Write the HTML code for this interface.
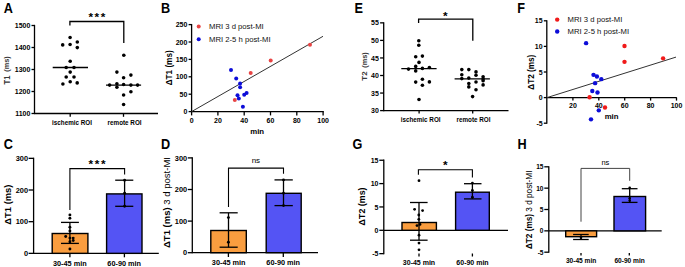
<!DOCTYPE html>
<html><head><meta charset="utf-8"><style>
html,body{margin:0;padding:0;background:#fff;}
svg{display:block;}
text{font-family:"Liberation Sans", sans-serif;}
</style></head><body>
<svg width="685" height="267" viewBox="0 0 685 267" font-family='"Liberation Sans", sans-serif'>
<rect x="0" y="0" width="685" height="267" fill="#fff"/>
<text transform="translate(3.80,12.60) scale(0.92,1)" font-size="13.8" font-weight="bold">A</text>
<line x1="34.50" y1="24.85" x2="34.50" y2="114.15" stroke="#000" stroke-width="1.3"/>
<line x1="31.50" y1="25.50" x2="34.50" y2="25.50" stroke="#000" stroke-width="1.3"/>
<text transform="translate(30.30,28.12) scale(0.92,1)" font-size="7.608695652173913" font-weight="bold" text-anchor="end" fill="#000">1500</text>
<line x1="31.50" y1="47.50" x2="34.50" y2="47.50" stroke="#000" stroke-width="1.3"/>
<text transform="translate(30.30,50.12) scale(0.92,1)" font-size="7.608695652173913" font-weight="bold" text-anchor="end" fill="#000">1400</text>
<line x1="31.50" y1="69.50" x2="34.50" y2="69.50" stroke="#000" stroke-width="1.3"/>
<text transform="translate(30.30,72.12) scale(0.92,1)" font-size="7.608695652173913" font-weight="bold" text-anchor="end" fill="#000">1300</text>
<line x1="31.50" y1="91.50" x2="34.50" y2="91.50" stroke="#000" stroke-width="1.3"/>
<text transform="translate(30.30,94.12) scale(0.92,1)" font-size="7.608695652173913" font-weight="bold" text-anchor="end" fill="#000">1200</text>
<line x1="31.50" y1="113.50" x2="34.50" y2="113.50" stroke="#000" stroke-width="1.3"/>
<text transform="translate(30.30,116.12) scale(0.92,1)" font-size="7.608695652173913" font-weight="bold" text-anchor="end" fill="#000">1100</text>
<line x1="34.50" y1="113.50" x2="158.00" y2="113.50" stroke="#000" stroke-width="1.3"/>
<line x1="70.20" y1="113.50" x2="70.20" y2="116.80" stroke="#000" stroke-width="1.3"/>
<line x1="123.50" y1="113.50" x2="123.50" y2="116.80" stroke="#000" stroke-width="1.3"/>
<text x="72.00" y="125.37" font-size="6.3" font-weight="bold" text-anchor="middle" fill="#000">ischemic ROI</text>
<text x="124.60" y="125.37" font-size="6.3" font-weight="bold" text-anchor="middle" fill="#000">remote ROI</text>
<text x="10.20" y="80.00" font-size="8.2" fill="#383838" text-anchor="middle" textLength="9.0" lengthAdjust="spacingAndGlyphs" transform="rotate(-90 10.20 80.00)"><tspan font-weight="bold" font-size="8.2">T1</tspan></text>
<text x="8.90" y="64.00" font-size="7.4" fill="#383838" text-anchor="middle" transform="rotate(-90 8.90 64.00)"><tspan font-weight="bold" font-size="7.4">(ms)</tspan></text>
<path d="M69.9,25.5 V21.5 H123.8 V43.1" stroke="#000" stroke-width="1.3" fill="none" stroke-linejoin="miter" stroke-linecap="butt"/>
<text x="97.70" y="21.46" font-size="11.8" font-weight="bold" text-anchor="middle" letter-spacing="1.6">***</text>
<circle cx="70.10" cy="37.50" r="1.8" fill="#000"/>
<circle cx="62.70" cy="44.90" r="1.8" fill="#000"/>
<circle cx="70.10" cy="44.50" r="1.8" fill="#000"/>
<circle cx="77.30" cy="42.00" r="1.8" fill="#000"/>
<circle cx="77.30" cy="47.60" r="1.8" fill="#000"/>
<circle cx="70.20" cy="61.30" r="1.8" fill="#000"/>
<circle cx="66.20" cy="67.50" r="1.8" fill="#000"/>
<circle cx="74.00" cy="67.50" r="1.8" fill="#000"/>
<circle cx="70.20" cy="72.10" r="1.8" fill="#000"/>
<circle cx="66.20" cy="77.00" r="1.8" fill="#000"/>
<circle cx="74.00" cy="77.00" r="1.8" fill="#000"/>
<circle cx="62.90" cy="84.00" r="1.8" fill="#000"/>
<circle cx="70.20" cy="81.80" r="1.8" fill="#000"/>
<circle cx="77.20" cy="82.90" r="1.8" fill="#000"/>
<line x1="52.70" y1="67.50" x2="88.00" y2="67.50" stroke="#000" stroke-width="1.3"/>
<circle cx="123.80" cy="55.30" r="1.8" fill="#000"/>
<circle cx="116.90" cy="72.10" r="1.8" fill="#000"/>
<circle cx="130.90" cy="75.10" r="1.8" fill="#000"/>
<circle cx="123.60" cy="77.80" r="1.8" fill="#000"/>
<circle cx="109.60" cy="85.10" r="1.8" fill="#000"/>
<circle cx="116.90" cy="83.70" r="1.8" fill="#000"/>
<circle cx="123.60" cy="84.50" r="1.8" fill="#000"/>
<circle cx="130.90" cy="85.10" r="1.8" fill="#000"/>
<circle cx="137.60" cy="85.10" r="1.8" fill="#000"/>
<circle cx="116.90" cy="87.20" r="1.8" fill="#000"/>
<circle cx="130.90" cy="91.80" r="1.8" fill="#000"/>
<circle cx="123.60" cy="95.00" r="1.8" fill="#000"/>
<circle cx="123.60" cy="104.50" r="1.8" fill="#000"/>
<line x1="106.00" y1="85.10" x2="141.10" y2="85.10" stroke="#000" stroke-width="1.3"/>
<text transform="translate(160.90,12.50) scale(0.92,1)" font-size="13.8" font-weight="bold">B</text>
<line x1="191.60" y1="23.95" x2="191.60" y2="112.25" stroke="#000" stroke-width="1.3"/>
<line x1="188.60" y1="24.60" x2="191.60" y2="24.60" stroke="#000" stroke-width="1.3"/>
<text transform="translate(187.40,27.22) scale(0.92,1)" font-size="7.608695652173913" font-weight="bold" text-anchor="end" fill="#000">250</text>
<line x1="188.60" y1="42.00" x2="191.60" y2="42.00" stroke="#000" stroke-width="1.3"/>
<text transform="translate(187.40,44.62) scale(0.92,1)" font-size="7.608695652173913" font-weight="bold" text-anchor="end" fill="#000">200</text>
<line x1="188.60" y1="59.40" x2="191.60" y2="59.40" stroke="#000" stroke-width="1.3"/>
<text transform="translate(187.40,62.02) scale(0.92,1)" font-size="7.608695652173913" font-weight="bold" text-anchor="end" fill="#000">150</text>
<line x1="188.60" y1="76.80" x2="191.60" y2="76.80" stroke="#000" stroke-width="1.3"/>
<text transform="translate(187.40,79.42) scale(0.92,1)" font-size="7.608695652173913" font-weight="bold" text-anchor="end" fill="#000">100</text>
<line x1="188.60" y1="94.20" x2="191.60" y2="94.20" stroke="#000" stroke-width="1.3"/>
<text transform="translate(187.40,96.82) scale(0.92,1)" font-size="7.608695652173913" font-weight="bold" text-anchor="end" fill="#000">50</text>
<line x1="188.60" y1="111.60" x2="191.60" y2="111.60" stroke="#000" stroke-width="1.3"/>
<text transform="translate(187.40,114.22) scale(0.92,1)" font-size="7.608695652173913" font-weight="bold" text-anchor="end" fill="#000">0</text>
<line x1="191.60" y1="111.60" x2="323.80" y2="111.60" stroke="#000" stroke-width="1.3"/>
<line x1="191.60" y1="111.60" x2="191.60" y2="115.40" stroke="#000" stroke-width="1.3"/>
<text x="191.60" y="122.82" font-size="7" font-weight="bold" text-anchor="middle" fill="#000">0</text>
<line x1="217.90" y1="111.60" x2="217.90" y2="115.40" stroke="#000" stroke-width="1.3"/>
<text x="217.90" y="122.82" font-size="7" font-weight="bold" text-anchor="middle" fill="#000">20</text>
<line x1="244.20" y1="111.60" x2="244.20" y2="115.40" stroke="#000" stroke-width="1.3"/>
<text x="244.20" y="122.82" font-size="7" font-weight="bold" text-anchor="middle" fill="#000">40</text>
<line x1="270.50" y1="111.60" x2="270.50" y2="115.40" stroke="#000" stroke-width="1.3"/>
<text x="270.50" y="122.82" font-size="7" font-weight="bold" text-anchor="middle" fill="#000">60</text>
<line x1="296.80" y1="111.60" x2="296.80" y2="115.40" stroke="#000" stroke-width="1.3"/>
<text x="296.80" y="122.82" font-size="7" font-weight="bold" text-anchor="middle" fill="#000">80</text>
<line x1="323.10" y1="111.60" x2="323.10" y2="115.40" stroke="#000" stroke-width="1.3"/>
<text x="323.10" y="122.82" font-size="7" font-weight="bold" text-anchor="middle" fill="#000">100</text>
<text x="257.20" y="133.59" font-size="7.8" font-weight="bold" text-anchor="middle" fill="#000">min</text>
<text x="171.83" y="67.80" font-size="8.2" fill="#000" text-anchor="middle" transform="rotate(-90 171.83 67.80)"><tspan font-weight="bold" font-size="8.2">ΔT1 (ms)</tspan></text>
<circle cx="198.70" cy="26.60" r="2.0" fill="#e84444"/>
<circle cx="198.70" cy="39.20" r="2.0" fill="#0d0dd8"/>
<text x="209.00" y="29.36" font-size="7.7" font-weight="normal" text-anchor="start" fill="#111">MRI 3 d post-MI</text>
<text x="209.00" y="41.86" font-size="7.7" font-weight="normal" text-anchor="start" fill="#111">MRI 2-5 h post-MI</text>
<line x1="191.60" y1="111.60" x2="323.00" y2="36.30" stroke="#333" stroke-width="1.0"/>
<circle cx="231.00" cy="70.00" r="2.0" fill="#0d0dd8"/>
<circle cx="236.20" cy="78.40" r="2.0" fill="#0d0dd8"/>
<circle cx="240.10" cy="83.60" r="2.0" fill="#0d0dd8"/>
<circle cx="240.10" cy="87.30" r="2.0" fill="#0d0dd8"/>
<circle cx="237.50" cy="95.30" r="2.0" fill="#0d0dd8"/>
<circle cx="238.80" cy="98.40" r="2.0" fill="#0d0dd8"/>
<circle cx="244.20" cy="94.70" r="2.0" fill="#0d0dd8"/>
<circle cx="246.60" cy="93.00" r="2.0" fill="#0d0dd8"/>
<circle cx="242.90" cy="106.80" r="2.0" fill="#0d0dd8"/>
<circle cx="250.70" cy="73.10" r="2.0" fill="#e84444"/>
<circle cx="234.80" cy="100.00" r="2.0" fill="#e84444"/>
<circle cx="270.70" cy="60.60" r="2.0" fill="#e84444"/>
<circle cx="310.00" cy="44.70" r="2.0" fill="#e84444"/>
<text transform="translate(354.40,12.60) scale(0.92,1)" font-size="13.8" font-weight="bold">E</text>
<line x1="383.70" y1="22.20" x2="383.70" y2="111.25" stroke="#000" stroke-width="1.3"/>
<line x1="380.10" y1="22.85" x2="383.70" y2="22.85" stroke="#000" stroke-width="1.3"/>
<text transform="translate(378.90,25.47) scale(0.92,1)" font-size="7.608695652173913" font-weight="bold" text-anchor="end" fill="#000">55</text>
<line x1="380.10" y1="40.40" x2="383.70" y2="40.40" stroke="#000" stroke-width="1.3"/>
<text transform="translate(378.90,43.03) scale(0.92,1)" font-size="7.608695652173913" font-weight="bold" text-anchor="end" fill="#000">50</text>
<line x1="380.10" y1="57.95" x2="383.70" y2="57.95" stroke="#000" stroke-width="1.3"/>
<text transform="translate(378.90,60.57) scale(0.92,1)" font-size="7.608695652173913" font-weight="bold" text-anchor="end" fill="#000">45</text>
<line x1="380.10" y1="75.50" x2="383.70" y2="75.50" stroke="#000" stroke-width="1.3"/>
<text transform="translate(378.90,78.12) scale(0.92,1)" font-size="7.608695652173913" font-weight="bold" text-anchor="end" fill="#000">40</text>
<line x1="380.10" y1="93.05" x2="383.70" y2="93.05" stroke="#000" stroke-width="1.3"/>
<text transform="translate(378.90,95.67) scale(0.92,1)" font-size="7.608695652173913" font-weight="bold" text-anchor="end" fill="#000">35</text>
<line x1="380.10" y1="110.60" x2="383.70" y2="110.60" stroke="#000" stroke-width="1.3"/>
<text transform="translate(378.90,113.22) scale(0.92,1)" font-size="7.608695652173913" font-weight="bold" text-anchor="end" fill="#000">30</text>
<line x1="383.70" y1="110.60" x2="508.50" y2="110.60" stroke="#000" stroke-width="1.3"/>
<line x1="419.10" y1="110.60" x2="419.10" y2="113.60" stroke="#000" stroke-width="1.3"/>
<line x1="472.70" y1="110.60" x2="472.70" y2="113.60" stroke="#000" stroke-width="1.3"/>
<text x="420.60" y="122.17" font-size="6.3" font-weight="bold" text-anchor="middle" fill="#000">ischemic ROI</text>
<text x="473.50" y="122.17" font-size="6.3" font-weight="bold" text-anchor="middle" fill="#000">remote ROI</text>
<text x="366.80" y="76.00" font-size="8" fill="#383838" text-anchor="middle" transform="rotate(-90 366.80 76.00)"><tspan font-weight="bold" font-size="8">T2</tspan></text>
<text x="366.90" y="60.00" font-size="7.4" fill="#383838" text-anchor="middle" transform="rotate(-90 366.90 60.00)"><tspan font-weight="bold" font-size="7.4">(ms)</tspan></text>
<path d="M418.6,23 V19.2 H472.8 V40.8" stroke="#000" stroke-width="1.3" fill="none" stroke-linejoin="miter" stroke-linecap="butt"/>
<text x="445.30" y="19.56" font-size="11.8" font-weight="bold" text-anchor="middle" letter-spacing="0">*</text>
<circle cx="418.80" cy="40.80" r="1.8" fill="#000"/>
<circle cx="418.80" cy="45.30" r="1.8" fill="#000"/>
<circle cx="415.70" cy="56.70" r="1.8" fill="#000"/>
<circle cx="422.40" cy="56.10" r="1.8" fill="#000"/>
<circle cx="419.00" cy="62.40" r="1.8" fill="#000"/>
<circle cx="415.70" cy="66.40" r="1.8" fill="#000"/>
<circle cx="408.50" cy="69.10" r="1.8" fill="#000"/>
<circle cx="422.40" cy="68.40" r="1.8" fill="#000"/>
<circle cx="429.40" cy="67.50" r="1.8" fill="#000"/>
<circle cx="415.70" cy="70.90" r="1.8" fill="#000"/>
<circle cx="415.70" cy="82.10" r="1.8" fill="#000"/>
<circle cx="422.40" cy="79.20" r="1.8" fill="#000"/>
<circle cx="429.40" cy="81.90" r="1.8" fill="#000"/>
<circle cx="422.40" cy="85.30" r="1.8" fill="#000"/>
<circle cx="419.00" cy="99.50" r="1.8" fill="#000"/>
<line x1="401.30" y1="68.60" x2="436.60" y2="68.60" stroke="#000" stroke-width="1.3"/>
<circle cx="461.80" cy="69.60" r="1.8" fill="#000"/>
<circle cx="468.80" cy="69.60" r="1.8" fill="#000"/>
<circle cx="476.00" cy="71.90" r="1.8" fill="#000"/>
<circle cx="461.80" cy="74.80" r="1.8" fill="#000"/>
<circle cx="476.00" cy="75.30" r="1.8" fill="#000"/>
<circle cx="461.80" cy="78.60" r="1.8" fill="#000"/>
<circle cx="468.80" cy="78.10" r="1.8" fill="#000"/>
<circle cx="483.10" cy="76.80" r="1.8" fill="#000"/>
<circle cx="483.10" cy="79.00" r="1.8" fill="#000"/>
<circle cx="468.80" cy="83.50" r="1.8" fill="#000"/>
<circle cx="476.00" cy="82.00" r="1.8" fill="#000"/>
<circle cx="483.10" cy="80.80" r="1.8" fill="#000"/>
<circle cx="483.10" cy="84.90" r="1.8" fill="#000"/>
<circle cx="468.80" cy="86.90" r="1.8" fill="#000"/>
<circle cx="476.00" cy="89.80" r="1.8" fill="#000"/>
<circle cx="472.60" cy="96.60" r="1.8" fill="#000"/>
<line x1="454.60" y1="78.80" x2="489.90" y2="78.80" stroke="#000" stroke-width="1.3"/>
<text transform="translate(517.30,12.50) scale(0.92,1)" font-size="13.8" font-weight="bold">F</text>
<line x1="546.80" y1="20.15" x2="546.80" y2="123.85" stroke="#000" stroke-width="1.3"/>
<line x1="543.80" y1="20.80" x2="546.80" y2="20.80" stroke="#000" stroke-width="1.3"/>
<text transform="translate(542.60,23.42) scale(0.92,1)" font-size="7.608695652173913" font-weight="bold" text-anchor="end" fill="#000">15</text>
<line x1="543.80" y1="46.40" x2="546.80" y2="46.40" stroke="#000" stroke-width="1.3"/>
<text transform="translate(542.60,49.02) scale(0.92,1)" font-size="7.608695652173913" font-weight="bold" text-anchor="end" fill="#000">10</text>
<line x1="543.80" y1="72.00" x2="546.80" y2="72.00" stroke="#000" stroke-width="1.3"/>
<text transform="translate(542.60,74.62) scale(0.92,1)" font-size="7.608695652173913" font-weight="bold" text-anchor="end" fill="#000">5</text>
<line x1="543.80" y1="97.60" x2="546.80" y2="97.60" stroke="#000" stroke-width="1.3"/>
<text transform="translate(542.60,100.22) scale(0.92,1)" font-size="7.608695652173913" font-weight="bold" text-anchor="end" fill="#000">0</text>
<line x1="543.80" y1="123.20" x2="546.80" y2="123.20" stroke="#000" stroke-width="1.3"/>
<text transform="translate(542.60,125.82) scale(0.92,1)" font-size="7.608695652173913" font-weight="bold" text-anchor="end" fill="#000">-5</text>
<line x1="546.80" y1="97.60" x2="676.80" y2="97.60" stroke="#000" stroke-width="1.3"/>
<line x1="572.90" y1="97.60" x2="572.90" y2="100.60" stroke="#000" stroke-width="1.3"/>
<text x="572.90" y="108.42" font-size="7" font-weight="bold" text-anchor="middle" fill="#000">20</text>
<line x1="598.80" y1="97.60" x2="598.80" y2="100.60" stroke="#000" stroke-width="1.3"/>
<text x="598.80" y="108.42" font-size="7" font-weight="bold" text-anchor="middle" fill="#000">40</text>
<line x1="624.70" y1="97.60" x2="624.70" y2="100.60" stroke="#000" stroke-width="1.3"/>
<text x="624.70" y="108.42" font-size="7" font-weight="bold" text-anchor="middle" fill="#000">60</text>
<line x1="650.60" y1="97.60" x2="650.60" y2="100.60" stroke="#000" stroke-width="1.3"/>
<text x="650.60" y="108.42" font-size="7" font-weight="bold" text-anchor="middle" fill="#000">80</text>
<line x1="676.50" y1="97.60" x2="676.50" y2="100.60" stroke="#000" stroke-width="1.3"/>
<text x="676.50" y="108.42" font-size="7" font-weight="bold" text-anchor="middle" fill="#000">100</text>
<text x="611.60" y="119.29" font-size="7.8" font-weight="bold" text-anchor="middle" fill="#000">min</text>
<text x="534.30" y="72.20" font-size="8.2" fill="#000" text-anchor="middle" transform="rotate(-90 534.30 72.20)"><tspan font-weight="bold" font-size="8.2">ΔT2 (ms)</tspan></text>
<circle cx="557.20" cy="19.60" r="2.2" fill="#f01a1a"/>
<circle cx="557.20" cy="31.50" r="2.2" fill="#0d0dd8"/>
<text x="567.60" y="22.26" font-size="7.7" font-weight="normal" text-anchor="start" fill="#111">MRI 3 d post-MI</text>
<text x="567.60" y="34.16" font-size="7.7" font-weight="normal" text-anchor="start" fill="#111">MRI 2-5 h post-MI</text>
<line x1="547.00" y1="97.60" x2="676.00" y2="57.10" stroke="#333" stroke-width="1.0"/>
<circle cx="586.10" cy="43.15" r="2.2" fill="#0d0dd8"/>
<circle cx="593.50" cy="74.85" r="2.2" fill="#0d0dd8"/>
<circle cx="596.90" cy="76.45" r="2.2" fill="#0d0dd8"/>
<circle cx="601.30" cy="79.15" r="2.2" fill="#0d0dd8"/>
<circle cx="595.10" cy="83.15" r="2.2" fill="#0d0dd8"/>
<circle cx="592.30" cy="91.05" r="2.2" fill="#0d0dd8"/>
<circle cx="597.50" cy="92.55" r="2.2" fill="#0d0dd8"/>
<circle cx="598.80" cy="110.35" r="2.2" fill="#0d0dd8"/>
<circle cx="591.00" cy="119.35" r="2.2" fill="#0d0dd8"/>
<circle cx="624.50" cy="46.05" r="2.2" fill="#f01a1a"/>
<circle cx="624.50" cy="61.85" r="2.2" fill="#f01a1a"/>
<circle cx="663.10" cy="58.35" r="2.2" fill="#f01a1a"/>
<circle cx="589.60" cy="97.25" r="2.2" fill="#f01a1a"/>
<circle cx="605.00" cy="107.55" r="2.2" fill="#f01a1a"/>
<text transform="translate(3.80,149.30) scale(0.92,1)" font-size="13.8" font-weight="bold">C</text>
<line x1="33.60" y1="157.69" x2="33.60" y2="254.00" stroke="#000" stroke-width="1.3"/>
<line x1="28.60" y1="158.34" x2="33.60" y2="158.34" stroke="#000" stroke-width="1.3"/>
<text transform="translate(28.00,161.12) scale(0.92,1)" font-size="8.043478260869565" font-weight="bold" text-anchor="end" fill="#000">300</text>
<line x1="28.60" y1="190.01" x2="33.60" y2="190.01" stroke="#000" stroke-width="1.3"/>
<text transform="translate(28.00,192.78) scale(0.92,1)" font-size="8.043478260869565" font-weight="bold" text-anchor="end" fill="#000">200</text>
<line x1="28.60" y1="221.68" x2="33.60" y2="221.68" stroke="#000" stroke-width="1.3"/>
<text transform="translate(28.00,224.46) scale(0.92,1)" font-size="8.043478260869565" font-weight="bold" text-anchor="end" fill="#000">100</text>
<line x1="28.60" y1="253.35" x2="33.60" y2="253.35" stroke="#000" stroke-width="1.3"/>
<text transform="translate(28.00,256.12) scale(0.92,1)" font-size="8.043478260869565" font-weight="bold" text-anchor="end" fill="#000">0</text>
<line x1="33.60" y1="253.35" x2="158.80" y2="253.35" stroke="#000" stroke-width="1.3"/>
<rect x="52.20" y="233.50" width="35.70" height="19.85" fill="#f99d3f" stroke="#000" stroke-width="1.4"/>
<rect x="106.60" y="193.90" width="35.40" height="59.45" fill="#5454f4" stroke="#000" stroke-width="1.4"/>
<line x1="69.90" y1="253.00" x2="69.90" y2="257.30" stroke="#000" stroke-width="1.3"/>
<line x1="124.40" y1="253.00" x2="124.40" y2="257.30" stroke="#000" stroke-width="1.3"/>
<text x="69.80" y="265.52" font-size="7.3" font-weight="bold" text-anchor="middle" fill="#000">30-45 min</text>
<text x="124.20" y="265.52" font-size="7.3" font-weight="bold" text-anchor="middle" fill="#000">60-90 min</text>
<text x="11.10" y="204.60" font-size="9.4" fill="#000" text-anchor="middle" transform="rotate(-90 11.10 204.60)"><tspan font-weight="bold" font-size="9.4">ΔT1 (ms)</tspan></text>
<path d="M69.9,210 V168.6 H124.6 V174.6" stroke="#000" stroke-width="1.1" fill="none" stroke-linejoin="miter" stroke-linecap="butt"/>
<text x="97.90" y="168.36" font-size="11.8" font-weight="bold" text-anchor="middle" letter-spacing="1.6">***</text>
<line x1="69.90" y1="222.40" x2="69.90" y2="243.40" stroke="#000" stroke-width="1.3"/>
<line x1="61.00" y1="222.40" x2="78.90" y2="222.40" stroke="#000" stroke-width="1.3"/>
<line x1="61.00" y1="243.40" x2="78.90" y2="243.40" stroke="#000" stroke-width="1.3"/>
<circle cx="69.90" cy="214.90" r="1.45" fill="#000"/>
<circle cx="69.90" cy="218.20" r="1.45" fill="#000"/>
<circle cx="69.90" cy="227.20" r="1.45" fill="#000"/>
<circle cx="69.90" cy="230.90" r="1.45" fill="#000"/>
<circle cx="65.70" cy="236.50" r="1.45" fill="#000"/>
<circle cx="69.90" cy="238.10" r="1.45" fill="#000"/>
<circle cx="73.20" cy="238.10" r="1.45" fill="#000"/>
<circle cx="73.20" cy="240.50" r="1.45" fill="#000"/>
<circle cx="69.90" cy="241.70" r="1.45" fill="#000"/>
<circle cx="69.90" cy="249.00" r="1.45" fill="#000"/>
<line x1="124.60" y1="180.20" x2="124.60" y2="206.30" stroke="#000" stroke-width="1.3"/>
<line x1="115.20" y1="180.20" x2="133.30" y2="180.20" stroke="#000" stroke-width="1.3"/>
<line x1="115.20" y1="206.30" x2="133.30" y2="206.30" stroke="#000" stroke-width="1.3"/>
<circle cx="124.60" cy="180.20" r="1.45" fill="#000"/>
<circle cx="124.60" cy="193.20" r="1.45" fill="#000"/>
<circle cx="124.60" cy="206.30" r="1.45" fill="#000"/>
<text transform="translate(161.10,149.30) scale(0.92,1)" font-size="13.8" font-weight="bold">D</text>
<line x1="192.30" y1="157.25" x2="192.30" y2="253.35" stroke="#000" stroke-width="1.3"/>
<line x1="187.80" y1="157.90" x2="192.30" y2="157.90" stroke="#000" stroke-width="1.3"/>
<text transform="translate(187.20,160.67) scale(0.92,1)" font-size="8.043478260869565" font-weight="bold" text-anchor="end" fill="#000">300</text>
<line x1="187.80" y1="189.50" x2="192.30" y2="189.50" stroke="#000" stroke-width="1.3"/>
<text transform="translate(187.20,192.28) scale(0.92,1)" font-size="8.043478260869565" font-weight="bold" text-anchor="end" fill="#000">200</text>
<line x1="187.80" y1="221.10" x2="192.30" y2="221.10" stroke="#000" stroke-width="1.3"/>
<text transform="translate(187.20,223.88) scale(0.92,1)" font-size="8.043478260869565" font-weight="bold" text-anchor="end" fill="#000">100</text>
<line x1="187.80" y1="252.70" x2="192.30" y2="252.70" stroke="#000" stroke-width="1.3"/>
<text transform="translate(187.20,255.47) scale(0.92,1)" font-size="8.043478260869565" font-weight="bold" text-anchor="end" fill="#000">0</text>
<line x1="192.30" y1="252.70" x2="318.00" y2="252.70" stroke="#000" stroke-width="1.3"/>
<rect x="210.80" y="230.50" width="35.50" height="22.20" fill="#f99d3f" stroke="#000" stroke-width="1.4"/>
<rect x="266.20" y="193.30" width="35.00" height="59.40" fill="#5454f4" stroke="#000" stroke-width="1.4"/>
<line x1="228.40" y1="252.70" x2="228.40" y2="257.00" stroke="#000" stroke-width="1.3"/>
<line x1="283.30" y1="252.70" x2="283.30" y2="257.00" stroke="#000" stroke-width="1.3"/>
<text x="228.70" y="264.72" font-size="7.3" font-weight="bold" text-anchor="middle" fill="#000">30-45 min</text>
<text x="283.20" y="264.72" font-size="7.3" font-weight="bold" text-anchor="middle" fill="#000">60-90 min</text>
<text x="170.00" y="202.50" font-size="9.4" fill="#000" text-anchor="middle" textLength="91" lengthAdjust="spacingAndGlyphs" transform="rotate(-90 170.00 202.50)"><tspan font-weight="bold" font-size="9.4">ΔT1 (ms) </tspan><tspan font-weight="normal" font-size="9.4">3 d post-MI</tspan></text>
<path d="M228.5,207 V168.1 H283.5 V173.8" stroke="#000" stroke-width="1.1" fill="none" stroke-linejoin="miter" stroke-linecap="butt"/>
<text x="255.90" y="163.26" font-size="8" font-weight="normal" text-anchor="middle" fill="#000">ns</text>
<line x1="228.50" y1="212.80" x2="228.50" y2="247.20" stroke="#000" stroke-width="1.3"/>
<line x1="219.60" y1="212.80" x2="237.70" y2="212.80" stroke="#000" stroke-width="1.3"/>
<line x1="219.60" y1="247.20" x2="237.70" y2="247.20" stroke="#000" stroke-width="1.3"/>
<circle cx="228.40" cy="217.60" r="1.45" fill="#000"/>
<circle cx="228.40" cy="242.20" r="1.45" fill="#000"/>
<line x1="283.50" y1="179.90" x2="283.50" y2="205.60" stroke="#000" stroke-width="1.3"/>
<line x1="274.50" y1="179.90" x2="292.80" y2="179.90" stroke="#000" stroke-width="1.3"/>
<line x1="274.50" y1="205.60" x2="292.80" y2="205.60" stroke="#000" stroke-width="1.3"/>
<circle cx="283.50" cy="179.90" r="1.45" fill="#000"/>
<circle cx="283.50" cy="193.30" r="1.45" fill="#000"/>
<circle cx="283.50" cy="205.60" r="1.45" fill="#000"/>
<text transform="translate(352.60,149.00) scale(0.92,1)" font-size="13.8" font-weight="bold">G</text>
<line x1="383.80" y1="159.60" x2="383.80" y2="254.30" stroke="#000" stroke-width="1.3"/>
<line x1="379.30" y1="160.25" x2="383.80" y2="160.25" stroke="#000" stroke-width="1.3"/>
<text transform="translate(378.50,162.88) scale(0.92,1)" font-size="7.608695652173913" font-weight="bold" text-anchor="end" fill="#000">15</text>
<line x1="379.30" y1="183.60" x2="383.80" y2="183.60" stroke="#000" stroke-width="1.3"/>
<text transform="translate(378.50,186.23) scale(0.92,1)" font-size="7.608695652173913" font-weight="bold" text-anchor="end" fill="#000">10</text>
<line x1="379.30" y1="206.95" x2="383.80" y2="206.95" stroke="#000" stroke-width="1.3"/>
<text transform="translate(378.50,209.58) scale(0.92,1)" font-size="7.608695652173913" font-weight="bold" text-anchor="end" fill="#000">5</text>
<line x1="379.30" y1="230.30" x2="383.80" y2="230.30" stroke="#000" stroke-width="1.3"/>
<text transform="translate(378.50,232.93) scale(0.92,1)" font-size="7.608695652173913" font-weight="bold" text-anchor="end" fill="#000">0</text>
<line x1="379.30" y1="253.65" x2="383.80" y2="253.65" stroke="#000" stroke-width="1.3"/>
<text transform="translate(378.50,256.27) scale(0.92,1)" font-size="7.608695652173913" font-weight="bold" text-anchor="end" fill="#000">-5</text>
<line x1="383.80" y1="230.30" x2="508.00" y2="230.30" stroke="#000" stroke-width="1.3"/>
<rect x="402.00" y="222.50" width="34.40" height="7.80" fill="#f99d3f" stroke="#000" stroke-width="1.4"/>
<rect x="455.60" y="192.20" width="33.70" height="38.10" fill="#5454f4" stroke="#000" stroke-width="1.4"/>
<line x1="419.00" y1="253.50" x2="419.00" y2="256.50" stroke="#000" stroke-width="1.3"/>
<line x1="472.40" y1="253.50" x2="472.40" y2="256.50" stroke="#000" stroke-width="1.3"/>
<text x="419.00" y="265.12" font-size="7.0" font-weight="bold" text-anchor="middle" fill="#000">30-45 min</text>
<text x="472.50" y="265.12" font-size="7.0" font-weight="bold" text-anchor="middle" fill="#000">60-90 min</text>
<text x="364.90" y="206.40" font-size="8.9" fill="#000" text-anchor="middle" transform="rotate(-90 364.90 206.40)"><tspan font-weight="bold" font-size="8.9">ΔT2 (ms)</tspan></text>
<path d="M418.4,174.8 V169.8 H472.4 V177.4" stroke="#000" stroke-width="1.1" fill="none" stroke-linejoin="miter" stroke-linecap="butt"/>
<text x="445.30" y="169.36" font-size="11.8" font-weight="bold" text-anchor="middle" letter-spacing="0">*</text>
<line x1="419.00" y1="202.50" x2="419.00" y2="240.20" stroke="#000" stroke-width="1.3"/>
<line x1="410.00" y1="202.50" x2="427.60" y2="202.50" stroke="#000" stroke-width="1.3"/>
<line x1="410.00" y1="240.20" x2="427.60" y2="240.20" stroke="#000" stroke-width="1.3"/>
<circle cx="419.00" cy="180.70" r="1.4" fill="#000"/>
<circle cx="414.60" cy="209.30" r="1.4" fill="#000"/>
<circle cx="422.60" cy="210.60" r="1.4" fill="#000"/>
<circle cx="418.80" cy="215.00" r="1.4" fill="#000"/>
<circle cx="418.80" cy="219.30" r="1.4" fill="#000"/>
<circle cx="417.00" cy="225.60" r="1.4" fill="#000"/>
<circle cx="420.00" cy="224.40" r="1.4" fill="#000"/>
<circle cx="419.00" cy="235.20" r="1.4" fill="#000"/>
<circle cx="419.00" cy="243.10" r="1.4" fill="#000"/>
<circle cx="419.00" cy="249.80" r="1.4" fill="#000"/>
<line x1="472.40" y1="183.70" x2="472.40" y2="198.90" stroke="#000" stroke-width="1.3"/>
<line x1="464.00" y1="183.70" x2="481.50" y2="183.70" stroke="#000" stroke-width="1.3"/>
<line x1="464.00" y1="198.90" x2="481.50" y2="198.90" stroke="#000" stroke-width="1.3"/>
<circle cx="472.40" cy="183.10" r="1.4" fill="#000"/>
<circle cx="472.40" cy="190.50" r="1.4" fill="#000"/>
<circle cx="472.40" cy="197.20" r="1.4" fill="#000"/>
<text transform="translate(517.60,149.00) scale(0.92,1)" font-size="13.8" font-weight="bold">H</text>
<line x1="548.80" y1="166.15" x2="548.80" y2="252.85" stroke="#000" stroke-width="1.3"/>
<line x1="544.30" y1="166.80" x2="548.80" y2="166.80" stroke="#000" stroke-width="1.3"/>
<text transform="translate(543.50,169.28) scale(0.92,1)" font-size="7.17391304347826" font-weight="bold" text-anchor="end" fill="#000">15</text>
<line x1="544.30" y1="188.15" x2="548.80" y2="188.15" stroke="#000" stroke-width="1.3"/>
<text transform="translate(543.50,190.62) scale(0.92,1)" font-size="7.17391304347826" font-weight="bold" text-anchor="end" fill="#000">10</text>
<line x1="544.30" y1="209.50" x2="548.80" y2="209.50" stroke="#000" stroke-width="1.3"/>
<text transform="translate(543.50,211.97) scale(0.92,1)" font-size="7.17391304347826" font-weight="bold" text-anchor="end" fill="#000">5</text>
<line x1="544.30" y1="230.85" x2="548.80" y2="230.85" stroke="#000" stroke-width="1.3"/>
<text transform="translate(543.50,233.32) scale(0.92,1)" font-size="7.17391304347826" font-weight="bold" text-anchor="end" fill="#000">0</text>
<line x1="544.30" y1="252.20" x2="548.80" y2="252.20" stroke="#000" stroke-width="1.3"/>
<text transform="translate(543.50,254.67) scale(0.92,1)" font-size="7.17391304347826" font-weight="bold" text-anchor="end" fill="#000">-5</text>
<line x1="548.80" y1="230.85" x2="661.70" y2="230.85" stroke="#000" stroke-width="1.3"/>
<rect x="565.70" y="230.85" width="30.90" height="5.85" fill="#f99d3f" stroke="#000" stroke-width="1.4"/>
<rect x="614.00" y="196.50" width="31.60" height="34.35" fill="#5454f4" stroke="#000" stroke-width="1.4"/>
<line x1="581.00" y1="253.00" x2="581.00" y2="255.50" stroke="#000" stroke-width="1.3"/>
<line x1="629.30" y1="253.00" x2="629.30" y2="255.50" stroke="#000" stroke-width="1.3"/>
<text x="581.10" y="262.58" font-size="6.6" font-weight="bold" text-anchor="middle" fill="#000">30-45 min</text>
<text x="629.60" y="262.58" font-size="6.6" font-weight="bold" text-anchor="middle" fill="#000">60-90 min</text>
<text x="532.20" y="209.80" font-size="8.3" fill="#000" text-anchor="middle" textLength="78.5" lengthAdjust="spacingAndGlyphs" transform="rotate(-90 532.20 209.80)"><tspan font-weight="bold" font-size="8.3">ΔT2 (ms) </tspan><tspan font-weight="normal" font-size="8.3">3 d post-MI</tspan></text>
<path d="M581,221.7 V168.4 H629.7 V180.8" stroke="#444" stroke-width="1.0" fill="none" stroke-linejoin="miter" stroke-linecap="butt"/>
<text x="605.40" y="164.83" font-size="7.5" font-weight="normal" text-anchor="middle" fill="#000">ns</text>
<line x1="581.00" y1="234.50" x2="581.00" y2="239.50" stroke="#000" stroke-width="1.3"/>
<line x1="573.10" y1="234.50" x2="588.70" y2="234.50" stroke="#000" stroke-width="1.3"/>
<line x1="573.10" y1="239.50" x2="588.70" y2="239.50" stroke="#000" stroke-width="1.3"/>
<circle cx="581.00" cy="237.70" r="1.3" fill="#000"/>
<line x1="629.70" y1="188.70" x2="629.70" y2="202.40" stroke="#000" stroke-width="1.3"/>
<line x1="621.80" y1="188.70" x2="637.50" y2="188.70" stroke="#000" stroke-width="1.3"/>
<line x1="621.80" y1="202.40" x2="637.50" y2="202.40" stroke="#000" stroke-width="1.3"/>
<circle cx="629.70" cy="187.80" r="1.3" fill="#000"/>
<circle cx="629.70" cy="198.30" r="1.3" fill="#000"/>
<circle cx="629.70" cy="200.60" r="1.3" fill="#000"/>
</svg>
</body></html>
